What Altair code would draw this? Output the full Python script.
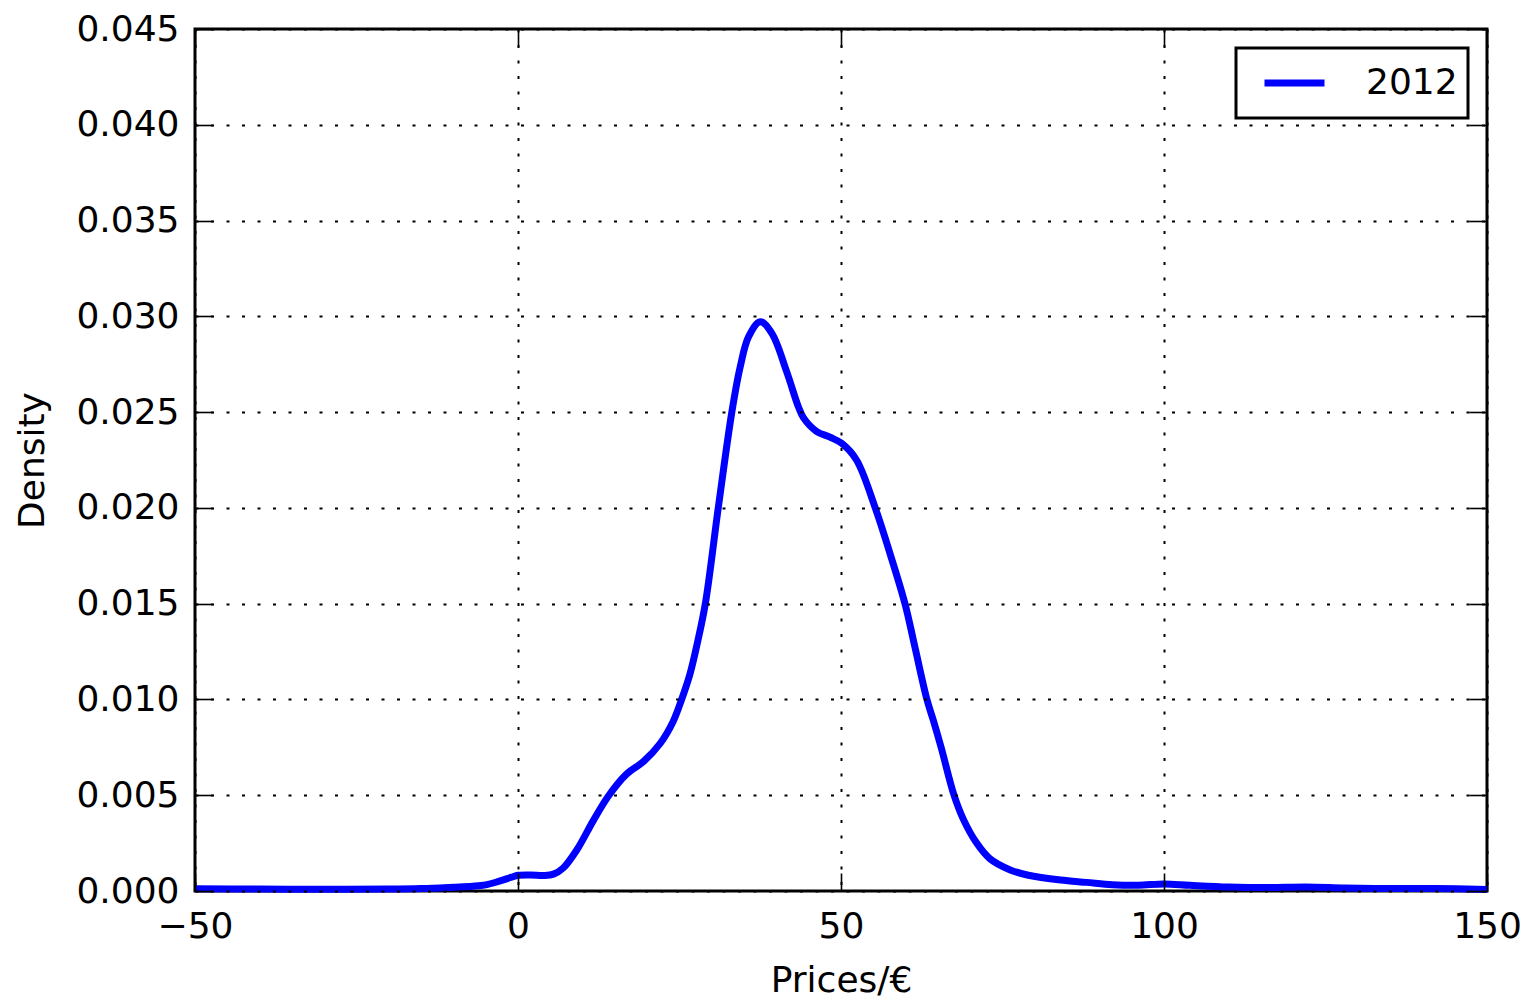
import altair as alt
import pandas as pd

# Kernel density estimate of 2012 prices
prices = [-50, -40, -30, -20, -15, -10, -7, -5, -3, -1, 0, 2, 4, 5.5, 7, 9.1, 11.7,
          14, 16.8, 19.4, 22, 24, 25.3, 26.6, 27.8, 29, 31, 33.1, 34.4, 35.7, 37.5,
          39.3, 41.6, 43.4, 44.2, 46.2, 48.3, 50.1, 52.4, 55.3, 57.6, 59.9, 61.45,
          63.3, 64.3, 65.5, 67.5, 69, 71, 73, 76.2, 79, 84, 88, 92, 96, 100, 104,
          110, 116, 122, 128, 135, 142, 150]
density = [0.00012, 0.00010, 0.00009, 0.00010, 0.00013, 0.00020, 0.00025, 0.00032,
           0.00050, 0.00072, 0.00082, 0.00084, 0.00081, 0.00088, 0.00120, 0.00214,
           0.00370, 0.00496, 0.00610, 0.00675, 0.00770, 0.00884, 0.00997, 0.01130,
           0.01300, 0.01500, 0.02000, 0.02500, 0.02737, 0.02894, 0.02972, 0.02911,
           0.02710, 0.02528, 0.02470, 0.02400, 0.02369, 0.02337, 0.02250, 0.02000,
           0.01760, 0.01500, 0.01272, 0.01000, 0.00890, 0.00750, 0.00500, 0.00370,
           0.00250, 0.00170, 0.00110, 0.00082, 0.00057, 0.00045, 0.00033, 0.00030,
           0.00037, 0.00030, 0.00021, 0.00018, 0.00021, 0.00016, 0.00013, 0.00013,
           0.00008]
year = ["2012"] * len(prices)

x_ticks = [-50, 0, 50, 100, 150]
y_ticks = [0.000, 0.005, 0.010, 0.015, 0.020, 0.025, 0.030, 0.035, 0.040, 0.045]

df = pd.DataFrame({"Price": prices, "Density": density, "Year": year})

FONT = "DejaVu Sans"
x_scale = alt.Scale(domain=[-50, 150], nice=False, zero=False)
y_scale = alt.Scale(domain=[0, 0.045], nice=False, zero=False)

tick_common = dict(offset=-18, tickSize=18, tickColor="black", tickWidth=1.6,
                   domain=False, zindex=1, labelFlush=False, labelOverlap=False,
                   labelFont=FONT, labelFontSize=36, labelColor="black",
                   titleFont=FONT, titleFontSize=36, titleFontWeight="normal",
                   titleColor="black")
grid_style = dict(grid=True, gridColor="black", gridDash=[3, 12.5], gridWidth=2,
                  gridOpacity=1)

base = alt.Chart(df)

main = base.mark_line(strokeWidth=7, interpolate="catmull-rom").encode(
    x=alt.X("Price:Q", scale=x_scale,
            axis=alt.Axis(orient="bottom", values=x_ticks, title="Prices/€",
                          labelPadding=18, titlePadding=19, **tick_common, **grid_style)),
    y=alt.Y("Density:Q", scale=y_scale,
            axis=alt.Axis(orient="left", values=y_ticks, format=".3f", title="Density",
                          labelPadding=16, titlePadding=24, **tick_common, **grid_style)),
    color=alt.Color("Year:N", scale=alt.Scale(range=["#0000ff"]),
                    legend=alt.Legend(title=None, orient="top-right", offset=19,
                                      symbolType="stroke", symbolSize=3600,
                                      symbolStrokeWidth=7, labelFontSize=36,
                                      labelFont=FONT, labelColor="black",
                                      padding=10, symbolOffset=15, labelOffset=38,
                                      clipHeight=50,
                                      strokeColor="black", fillColor="white",
                                      cornerRadius=0)),
)

overlay = base.mark_line(opacity=0).encode(
    x=alt.X("Price:Q", scale=x_scale,
            axis=alt.Axis(orient="top", values=x_ticks, labels=False, title=None,
                          grid=False, **tick_common)),
    y=alt.Y("Density:Q", scale=y_scale,
            axis=alt.Axis(orient="right", values=y_ticks, labels=False, title=None,
                          grid=False, **tick_common)),
)

chart = (
    alt.layer(main, overlay)
    .resolve_axis(x="independent", y="independent")
    .properties(width=1292, height=862, background="white",
                padding={"left": 195, "top": 29, "right": 43, "bottom": 109},
                autosize=alt.AutoSizeParams(type="none"))
    .configure_view(stroke="black", strokeWidth=3)
    .configure_legend(strokeWidth=3)
)

chart.save("out.html", embed_options={"renderer": "svg", "actions": False})
